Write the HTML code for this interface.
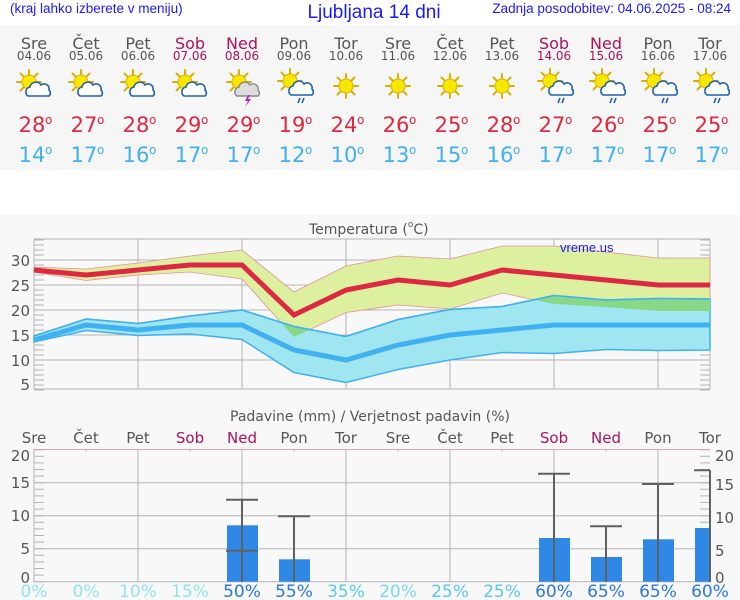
<!DOCTYPE html>
<html><head><meta charset="utf-8"><style>
body{margin:0;width:740px;height:600px;overflow:hidden;background:#fff}
svg{display:block}
</style></head><body>
<svg width="740" height="600" xmlns="http://www.w3.org/2000/svg" font-family="DejaVu Sans, Liberation Sans, sans-serif">
<defs>
<g id="sun"><g stroke="#d8b000" stroke-width="2" stroke-linecap="round">
<line x1="0" y1="-12" x2="0" y2="12"/><line x1="-12" y1="0" x2="12" y2="0"/>
<line x1="-8.5" y1="-8.5" x2="8.5" y2="8.5"/><line x1="-8.5" y1="8.5" x2="8.5" y2="-8.5"/></g>
<circle r="7" fill="#f8e800" stroke="#e0b000" stroke-width="1"/></g>
<g id="cloud"><path d="M-11,6 a5,5 0 0 1 2,-9 a6,6 0 0 1 11,-2 a5,5 0 0 1 8,5 a4,4 0 0 1 0,6 z" fill="#fff" stroke="#2060b0" stroke-width="1.6"/></g>
<g id="gcloud"><path d="M-11,6 a5,5 0 0 1 2,-9 a6,6 0 0 1 11,-2 a5,5 0 0 1 8,5 a4,4 0 0 1 0,6 z" fill="#ddd" stroke="#888" stroke-width="1.4"/></g>
<g id="pc"><use href="#sun" x="-5" y="-4"/><use href="#cloud" x="5" y="4"/></g>
<g id="rain"><use href="#sun" x="-6" y="-6"/><use href="#cloud" x="6" y="2"/><g stroke="#2060b0" stroke-width="1.6"><line x1="4" y1="11" x2="2" y2="16"/><line x1="8" y1="11" x2="6" y2="16"/></g></g>
<g id="thun"><use href="#sun" x="-5" y="-6"/><use href="#gcloud" x="4" y="2"/><path d="M4,7 l-3,6 h3 l-3,6 l6,-8 h-3 l2,-4z" fill="#c020c0"/></g>
<clipPath id="bclip"><polygon points="34,336 86,319 138,323.5 190,316 242,310 294,326.5 346,336.5 398,319.5 450,309.5 502,306.5 554,295.5 606,300 658,298.5 710,299 710,350 658,350.5 606,349.5 554,353.5 502,352.5 450,360 398,369.5 346,382.5 294,372.5 242,339.5 190,334 138,335.5 86,330.5 34,342"/></clipPath>
</defs>
<rect x="0" y="0" width="740" height="600" fill="#fff"/>
<rect x="0" y="25" width="740" height="145" fill="#f6f6f6"/>
<rect x="0" y="215" width="740" height="385" fill="#f8f8f8"/>
<g font-family="Liberation Sans, sans-serif" fill="#1a1aff">
<text x="10" y="13" font-size="13.5">(kraj lahko izberete v meniju)</text>
<text x="374" y="18" font-size="19" text-anchor="middle">Ljubljana 14 dni</text>
<text x="731" y="13" font-size="13.5" text-anchor="end">Zadnja posodobitev: 04.06.2025 - 08:24</text>
</g>
<g text-anchor="middle">
<g font-size="16" fill="#555">
<text x="34" y="49">Sre</text><text x="86" y="49">Čet</text><text x="138" y="49">Pet</text><text x="190" y="49" fill="#b0105a">Sob</text><text x="242" y="49" fill="#b0105a">Ned</text><text x="294" y="49">Pon</text><text x="346" y="49">Tor</text><text x="398" y="49">Sre</text><text x="450" y="49">Čet</text><text x="502" y="49">Pet</text><text x="554" y="49" fill="#b0105a">Sob</text><text x="606" y="49" fill="#b0105a">Ned</text><text x="658" y="49">Pon</text><text x="710" y="49">Tor</text>
</g>
<g font-size="12" fill="#555">
<text x="34" y="60">04.06</text><text x="86" y="60">05.06</text><text x="138" y="60">06.06</text><text x="190" y="60" fill="#b0105a">07.06</text><text x="242" y="60" fill="#b0105a">08.06</text><text x="294" y="60">09.06</text><text x="346" y="60">10.06</text><text x="398" y="60">11.06</text><text x="450" y="60">12.06</text><text x="502" y="60">13.06</text><text x="554" y="60" fill="#b0105a">14.06</text><text x="606" y="60" fill="#b0105a">15.06</text><text x="658" y="60">16.06</text><text x="710" y="60">17.06</text>
</g>
<g font-size="21" fill="#dc2840">
<text x="32" y="132">28</text><text x="84" y="132">27</text><text x="136" y="132">28</text><text x="188" y="132">29</text><text x="240" y="132">29</text><text x="292" y="132">19</text><text x="344" y="132">24</text><text x="396" y="132">26</text><text x="448" y="132">25</text><text x="500" y="132">28</text><text x="552" y="132">27</text><text x="604" y="132">26</text><text x="656" y="132">25</text><text x="708" y="132">25</text>
</g>
<g font-size="21" fill="#40b0f0">
<text x="32" y="162">14</text><text x="84" y="162">17</text><text x="136" y="162">16</text><text x="188" y="162">17</text><text x="240" y="162">17</text><text x="292" y="162">12</text><text x="344" y="162">10</text><text x="396" y="162">13</text><text x="448" y="162">15</text><text x="500" y="162">16</text><text x="552" y="162">17</text><text x="604" y="162">17</text><text x="656" y="162">17</text><text x="708" y="162">17</text>
</g>
</g>
<g font-size="12">
<g fill="#dc2840"><text x="45" y="124">o</text><text x="97" y="124">o</text><text x="149" y="124">o</text><text x="201" y="124">o</text><text x="253" y="124">o</text><text x="305" y="124">o</text><text x="357" y="124">o</text><text x="409" y="124">o</text><text x="461" y="124">o</text><text x="513" y="124">o</text><text x="565" y="124">o</text><text x="617" y="124">o</text><text x="669" y="124">o</text><text x="721" y="124">o</text></g>
<g fill="#40b0f0"><text x="45" y="154">o</text><text x="97" y="154">o</text><text x="149" y="154">o</text><text x="201" y="154">o</text><text x="253" y="154">o</text><text x="305" y="154">o</text><text x="357" y="154">o</text><text x="409" y="154">o</text><text x="461" y="154">o</text><text x="513" y="154">o</text><text x="565" y="154">o</text><text x="617" y="154">o</text><text x="669" y="154">o</text><text x="721" y="154">o</text></g>
</g>
<use href="#pc" x="34" y="86"/><use href="#pc" x="86" y="86"/><use href="#pc" x="138" y="86"/><use href="#pc" x="190" y="86"/>
<use href="#thun" x="244" y="88"/><use href="#rain" x="296" y="87"/>
<use href="#sun" x="346" y="86"/><use href="#sun" x="398" y="86"/><use href="#sun" x="450" y="86"/><use href="#sun" x="502" y="86"/>
<use href="#rain" x="556" y="87"/><use href="#rain" x="608" y="87"/><use href="#rain" x="660" y="87"/><use href="#rain" x="712" y="87"/>

<!-- temperature chart -->
<text x="309" y="234" font-size="14" fill="#555">Temperatura (<tspan font-size="9" dy="-7">o</tspan><tspan dy="7">C)</tspan></text>
<g stroke="#b4b4b4" stroke-width="1">
<line x1="34" y1="260" x2="710" y2="260"/><line x1="34" y1="285" x2="710" y2="285"/><line x1="34" y1="310" x2="710" y2="310"/><line x1="34" y1="335" x2="710" y2="335"/><line x1="34" y1="360" x2="710" y2="360"/>
<line x1="138" y1="239" x2="138" y2="389"/><line x1="242" y1="239" x2="242" y2="389"/><line x1="346" y1="239" x2="346" y2="389"/><line x1="450" y1="239" x2="450" y2="389"/><line x1="554" y1="239" x2="554" y2="389"/><line x1="658" y1="239" x2="658" y2="389"/>
<rect x="34" y="239" width="676" height="150" fill="none"/>
<line x1="39" y1="390.5" x2="39" y2="239" stroke-width="10" stroke-dasharray="1 4"/>
<line x1="705" y1="390.5" x2="705" y2="239" stroke-width="10" stroke-dasharray="1 4"/>
</g>
<g fill="#555" font-size="15" text-anchor="end">
<text x="30" y="266">30</text><text x="30" y="291">25</text><text x="30" y="316">20</text><text x="30" y="341">15</text><text x="30" y="366">10</text><text x="30" y="390">5</text>
</g>
<polygon points="34,267 86,269 138,263 190,256 242,250 294,292 346,266 398,256 450,259 502,246 554,246 606,252 658,258 710,258 710,311 658,311 606,307 554,304 502,293 450,309 398,305 346,312.5 294,337 242,279 190,272 138,275 86,280.5 34,272" fill="#dcf0a0" stroke="#e89090" stroke-width="0.8"/>
<polygon points="34,336 86,319 138,323.5 190,316 242,310 294,326.5 346,336.5 398,319.5 450,309.5 502,306.5 554,295.5 606,300 658,298.5 710,299 710,350 658,350.5 606,349.5 554,353.5 502,352.5 450,360 398,369.5 346,382.5 294,372.5 242,339.5 190,334 138,335.5 86,330.5 34,342" fill="#a0e6f0" stroke="#40b0f0" stroke-width="1.5"/>
<polygon clip-path="url(#bclip)" points="34,267 86,269 138,263 190,256 242,250 294,292 346,266 398,256 450,259 502,246 554,246 606,252 658,258 710,258 710,311 658,311 606,307 554,304 502,293 450,309 398,305 346,312.5 294,337 242,279 190,272 138,275 86,280.5 34,272" fill="#88d888"/>
<polyline points="34,336 86,319 138,323.5 190,316 242,310 294,326.5 346,336.5 398,319.5 450,309.5 502,306.5 554,295.5 606,300 658,298.5 710,299" fill="none" stroke="#40b0f0" stroke-width="1.5"/>
<polyline points="34,270 86,275 138,270 190,265 242,265 294,315 346,290 398,280 450,285 502,270 554,275 606,280 658,285 710,285" fill="none" stroke="#dc2840" stroke-width="5"/>
<polyline points="34,340 86,325 138,330 190,325 242,325 294,350 346,360 398,345 450,335 502,330 554,325 606,325 658,325 710,325" fill="none" stroke="#40b0f0" stroke-width="5"/>
<text x="560" y="252" font-family="Liberation Sans, sans-serif" font-size="13" fill="#1a1aff">vreme.us</text>

<!-- precipitation chart -->
<text x="370" y="421" font-size="14" fill="#555" text-anchor="middle">Padavine (mm) / Verjetnost padavin (%)</text>
<g font-size="15" fill="#555" text-anchor="middle">
<text x="34" y="443">Sre</text><text x="86" y="443">Čet</text><text x="138" y="443">Pet</text><text x="190" y="443" fill="#b0105a">Sob</text><text x="242" y="443" fill="#b0105a">Ned</text><text x="294" y="443">Pon</text><text x="346" y="443">Tor</text><text x="398" y="443">Sre</text><text x="450" y="443">Čet</text><text x="502" y="443">Pet</text><text x="554" y="443" fill="#b0105a">Sob</text><text x="606" y="443" fill="#b0105a">Ned</text><text x="658" y="443">Pon</text><text x="710" y="443">Tor</text>
</g>
<g stroke="#b4b4b4" stroke-width="1">
<line x1="34" y1="482.7" x2="710" y2="482.7"/><line x1="34" y1="515.7" x2="710" y2="515.7"/><line x1="34" y1="548.7" x2="710" y2="548.7"/><line x1="34" y1="581.7" x2="710" y2="581.7"/>
<line x1="138" y1="449" x2="138" y2="582"/><line x1="242" y1="449" x2="242" y2="582"/><line x1="346" y1="449" x2="346" y2="582"/><line x1="450" y1="449" x2="450" y2="582"/><line x1="554" y1="449" x2="554" y2="582"/><line x1="658" y1="449" x2="658" y2="582"/>
<line x1="34" y1="449" x2="34" y2="582"/>
<line x1="39" y1="582.2" x2="39" y2="449" stroke-width="10" stroke-dasharray="1 5.6"/>
<line x1="705" y1="582.2" x2="705" y2="449" stroke-width="10" stroke-dasharray="1 5.6"/>
</g>
<line x1="34" y1="449.5" x2="710" y2="449.5" stroke="#e0a0b8" stroke-width="1"/>
<g stroke="#e0a0b8"><line x1="86" y1="449" x2="86" y2="452"/><line x1="190" y1="449" x2="190" y2="452"/><line x1="294" y1="449" x2="294" y2="452"/><line x1="398" y1="449" x2="398" y2="452"/><line x1="502" y1="449" x2="502" y2="452"/><line x1="606" y1="449" x2="606" y2="452"/></g>
<g fill="#555" font-size="15">
<g text-anchor="end"><text x="30" y="461">20</text><text x="30" y="488">15</text><text x="30" y="521">10</text><text x="30" y="554">5</text><text x="30" y="583">0</text></g>
<text x="715" y="461">20</text><text x="715" y="490">15</text><text x="715" y="523">10</text><text x="715" y="556">5</text><text x="715" y="583">0</text>
</g>
<g fill="#3088e6">
<rect x="227" y="525.3" width="31" height="56.4"/><rect x="279" y="559.3" width="31" height="22.4"/>
<rect x="539" y="538" width="31" height="43.7"/><rect x="591" y="557" width="31" height="24.7"/><rect x="643" y="539.3" width="31" height="42.4"/><rect x="695" y="528" width="15" height="53.7"/>
</g>
<g stroke="#606060" stroke-width="2" fill="none">
<path d="M242,499.7 V582 M226,499.7 H258 M226,550.7 H258"/>
<path d="M294,516.3 V582 M278,516.3 H310"/>
<path d="M554,473.7 V582 M538,473.7 H570"/>
<path d="M606,526.3 V582 M590,526.3 H622"/>
<path d="M658,484 V582 M642,484 H674"/>
<path d="M710,470.3 V582 M694,470.3 H710"/>
</g>
<g font-size="17" text-anchor="middle">
<text x="34" y="597" fill="#90e4f4">0%</text><text x="86" y="597" fill="#90e4f4">0%</text><text x="138" y="597" fill="#90e4f4">10%</text><text x="190" y="597" fill="#90e4f4">15%</text>
<text x="242" y="597" fill="#2878e0">50%</text><text x="294" y="597" fill="#2878e0">55%</text>
<text x="346" y="597" fill="#58c8f0">35%</text><text x="398" y="597" fill="#78d8f4">20%</text><text x="450" y="597" fill="#58c8f0">25%</text><text x="502" y="597" fill="#58c8f0">25%</text>
<text x="554" y="597" fill="#2878e0">60%</text><text x="606" y="597" fill="#2878e0">65%</text><text x="658" y="597" fill="#2878e0">65%</text><text x="710" y="597" fill="#2878e0">60%</text>
</g>
</svg>
</body></html>
